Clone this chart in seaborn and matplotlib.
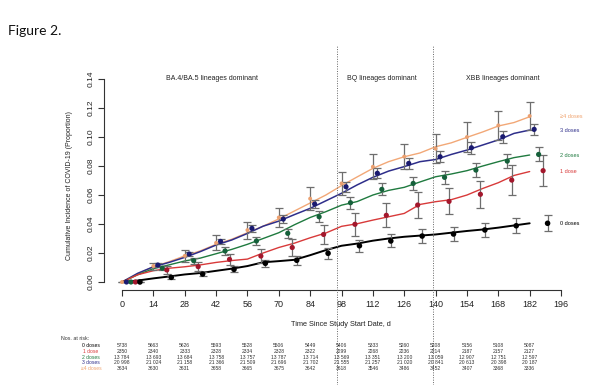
import numpy as np
import pandas as pd
import matplotlib
matplotlib.use("Agg")
import matplotlib.pyplot as plt
import seaborn as sns
from matplotlib.transforms import blended_transform_factory
from matplotlib.lines import Line2D

# ---------------- data ----------------
groups = ["0 doses", "1 dose", "2 doses", "3 doses", "\u22654 doses"]

line_days = list(range(0, 183, 7))
line_0 = [0, 0.001, 0.0025, 0.0038, 0.0052, 0.0062, 0.0077, 0.0092, 0.011, 0.0136, 0.0144, 0.0153, 0.0185,
          0.022, 0.025, 0.0265, 0.0285, 0.030, 0.0312, 0.032, 0.0328, 0.034, 0.0352, 0.0362, 0.0375, 0.039, 0.0405]
line_1 = [0, 0.005, 0.0078, 0.0095, 0.0105, 0.0118, 0.0135, 0.0148, 0.0158, 0.020, 0.0238, 0.0268, 0.0305,
          0.0338, 0.0384, 0.0402, 0.0427, 0.045, 0.0473, 0.0535, 0.0554, 0.0568, 0.060, 0.0645, 0.0685, 0.0735, 0.0762]
line_2 = [0, 0.005, 0.0092, 0.0118, 0.0145, 0.0165, 0.0195, 0.0225, 0.026, 0.030, 0.034, 0.0395, 0.0445,
          0.0485, 0.053, 0.0555, 0.060, 0.0632, 0.0653, 0.069, 0.0726, 0.0745, 0.0768, 0.080, 0.083, 0.0858, 0.0876]
line_3 = [0, 0.006, 0.0105, 0.0135, 0.0170, 0.021, 0.0255, 0.029, 0.0335, 0.0385, 0.042, 0.0465, 0.0508,
          0.056, 0.0612, 0.067, 0.0722, 0.0765, 0.0796, 0.083, 0.0845, 0.088, 0.091, 0.0945, 0.098, 0.1025, 0.1048]
line_4 = [0, 0.0055, 0.0105, 0.014, 0.018, 0.0215, 0.026, 0.0295, 0.034, 0.0385, 0.0435, 0.049, 0.0545,
          0.060, 0.0665, 0.0725, 0.0784, 0.083, 0.0864, 0.089, 0.0933, 0.096, 0.0998, 0.1035, 0.1076, 0.110, 0.114]

point_days = list(range(0, 183, 14))
pt_0 = [0, 0.0032, 0.0055, 0.0087, 0.0129, 0.015, 0.0198, 0.025, 0.0283, 0.0317, 0.0331, 0.0359, 0.0388, 0.0405]
err_0 = [0, 0.0012, 0.0016, 0.0021, 0.0026, 0.003, 0.0037, 0.0042, 0.0045, 0.0047, 0.0049, 0.005, 0.0052, 0.0054]
pt_1 = [0, 0.0083, 0.0106, 0.0156, 0.0179, 0.0238, 0.0328, 0.0398, 0.046, 0.0531, 0.0556, 0.0605, 0.0703, 0.0768]
err_1 = [0, 0.0025, 0.003, 0.004, 0.005, 0.006, 0.0066, 0.0078, 0.0083, 0.0088, 0.009, 0.0095, 0.0103, 0.0106]
pt_2 = [0, 0.0095, 0.0147, 0.0214, 0.0283, 0.0336, 0.045, 0.0547, 0.0639, 0.068, 0.0722, 0.0772, 0.0834, 0.088]
err_2 = [0, 0.0015, 0.002, 0.0025, 0.003, 0.0033, 0.0037, 0.004, 0.0042, 0.0044, 0.0045, 0.0046, 0.0047, 0.0048]
pt_3 = [0, 0.0117, 0.0193, 0.0280, 0.037, 0.0434, 0.0538, 0.0657, 0.075, 0.0818, 0.0864, 0.0926, 0.1002, 0.1053]
err_3 = [0, 0.0012, 0.0016, 0.002, 0.0024, 0.0027, 0.003, 0.0033, 0.0035, 0.0037, 0.0038, 0.004, 0.004, 0.004]
pt_4 = [0, 0.011, 0.018, 0.027, 0.0358, 0.0445, 0.0575, 0.068, 0.0795, 0.0865, 0.092, 0.100, 0.108, 0.1145]
err_4 = [0, 0.0024, 0.0042, 0.0052, 0.0058, 0.0063, 0.0077, 0.008, 0.0086, 0.0084, 0.0101, 0.0101, 0.0101, 0.0098]

risk_0 = [5738, 5663, 5626, 5593, 5528, 5506, 5449, 5406, 5333, 5260, 5208, 5156, 5108, 5087]
risk_1 = [2350, 2340, 2333, 2328, 2334, 2328, 2322, 2299, 2268, 2236, 2214, 2187, 2157, 2127]
risk_2 = [13784, 13693, 13684, 13758, 13757, 13787, 13714, 13569, 13351, 13200, 13059, 12907, 12751, 12597]
risk_3 = [20998, 21024, 21158, 21366, 21509, 21696, 21702, 21555, 21257, 21020, 20841, 20613, 20398, 20187]
risk_4 = [3634, 3630, 3631, 3658, 3665, 3675, 3642, 3618, 3546, 3486, 3452, 3407, 3368, 3336]

period_bounds = [96, 139]
period_labels = ["BA.4/BA.5 lineages dominant", "BQ lineages dominant", "XBB lineages dominant"]
period_label_x = [40, 116, 170]

x_ticks = list(range(0, 197, 14))
y_ticks = [0.00, 0.02, 0.04, 0.06, 0.08, 0.10, 0.12, 0.14]

# ---------------- style ----------------
line_colors = ["#000000", "#D83A3A", "#1F7A3F", "#2E2E8A", "#F2A877"]
point_colors = ["#000000", "#A3172C", "#15603A", "#1A1A70", "#EBA070"]
label_colors = ["#000000", "#D83A3A", "#1F7A3F", "#2E2E8A", "#F0A470"]
point_sizes = [16, 14, 14, 14, 8]
line_widths = [1.4, 1.0, 1.0, 1.1, 1.0]
dodge = [8, 6, 4, 2, 0]


def fmt_n(n):
    return f"{n:,}".replace(",", " ") if n >= 10000 else str(n)


sns.set_style("white")
plt.rcParams["font.family"] = ["Liberation Sans", "DejaVu Sans"]

fig = plt.figure(figsize=(6.05, 3.85), dpi=100)
ax = fig.add_axes([104 / 605, (385 - 290) / 385, 496 / 605, 215 / 385])

lines = [line_0, line_1, line_2, line_3, line_4]
pts = [pt_0, pt_1, pt_2, pt_3, pt_4]
errs = [err_0, err_1, err_2, err_3, err_4]
risks = [risk_0, risk_1, risk_2, risk_3, risk_4]

order = [4, 3, 2, 1, 0]
for i in order:
    df = pd.DataFrame({"day": line_days, "inc": lines[i]})
    sns.lineplot(data=df, x="day", y="inc", color=line_colors[i], lw=line_widths[i],
                 estimator=None, sort=False, ax=ax, legend=False, zorder=2)

for i in order:
    d = np.array(point_days) + dodge[i]
    p = np.array(pts[i])
    ax.errorbar(d, p, yerr=np.array(errs[i]), fmt="none", ecolor="#6E6E6E",
                elinewidth=0.9, capsize=2.6, capthick=0.9, zorder=3)
    dfp = pd.DataFrame({"day": d, "inc": p})
    sns.scatterplot(data=dfp, x="day", y="inc", color=point_colors[i], s=point_sizes[i],
                    edgecolor="none", ax=ax, legend=False, zorder=4)

ax.set_xlim(-8.04, 213.4)
ax.set_ylim(-0.00552, 0.1428)
for s in ["top", "right"]:
    ax.spines[s].set_visible(False)
ax.spines["left"].set_bounds(0, 0.14)
ax.spines["bottom"].set_bounds(0, 196)
for s in ["left", "bottom"]:
    ax.spines[s].set_color("#333333")
    ax.spines[s].set_linewidth(0.8)

ax.set_xticks(x_ticks)
ax.set_xticklabels([str(t) for t in x_ticks], fontsize=6.5)
ax.set_yticks(y_ticks)
ax.set_yticklabels([f"{t:.2f}" for t in y_ticks], fontsize=6, rotation=90, va="center")
ax.tick_params(axis="both", which="both", bottom=True, left=True, direction="out",
               length=4, width=0.8, color="#333333", labelcolor="#222222")
ax.tick_params(axis="x", pad=3)
ax.tick_params(axis="y", pad=3)

ax.set_xlabel("Time Since Study Start Date, d", fontsize=5.3, color="#222222")
ax.xaxis.set_label_coords(0.478, -0.145)
ax.set_ylabel("Cumulative Incidence of COVID-19 (Proportion)", fontsize=5, color="#222222")
ax.yaxis.set_label_coords(-0.0625, 0.488)

# group labels at right end of curves
for i in range(5):
    ax.text(195.5, lines[i][-1], groups[i], fontsize=4, color=label_colors[i],
            ha="left", va="center", clip_on=False)

trans = blended_transform_factory(ax.transData, fig.transFigure)

# period boundaries
for b in period_bounds:
    fig.add_artist(Line2D([b, b], [0.0, (385 - 45) / 385], transform=trans,
                          ls=(0, (1, 1.5)), color="#666666", lw=0.7))
for lab, xc in zip(period_labels, period_label_x):
    fig.text(xc, (385 - 78) / 385, lab, transform=trans, fontsize=5, ha="center",
             va="center", color="#222222")

# number at risk table
fig.text(-27.2, (385 - 338) / 385, "Nos. at risk:", transform=trans, fontsize=3.8,
         ha="left", va="center", color="#333333")
row_y = [345.7, 351.5, 357.3, 363.0, 368.6]
for i in range(5):
    fy = (385 - row_y[i]) / 385
    fig.text(-13.8, fy, groups[i], transform=trans, fontsize=3.6, ha="center",
             va="center", color=label_colors[i])
    for t, n in zip(point_days, risks[i]):
        fig.text(t, fy, fmt_n(n), transform=trans, fontsize=3.6,
                 ha="center", va="center", color="#333333")

fig.text(8 / 605, 1 - 35 / 385, "Figure 2.", fontsize=10, family=["Lato", "DejaVu Sans"],
         va="baseline", ha="left", color="#111111")

fig.savefig("out.png", dpi=100)
